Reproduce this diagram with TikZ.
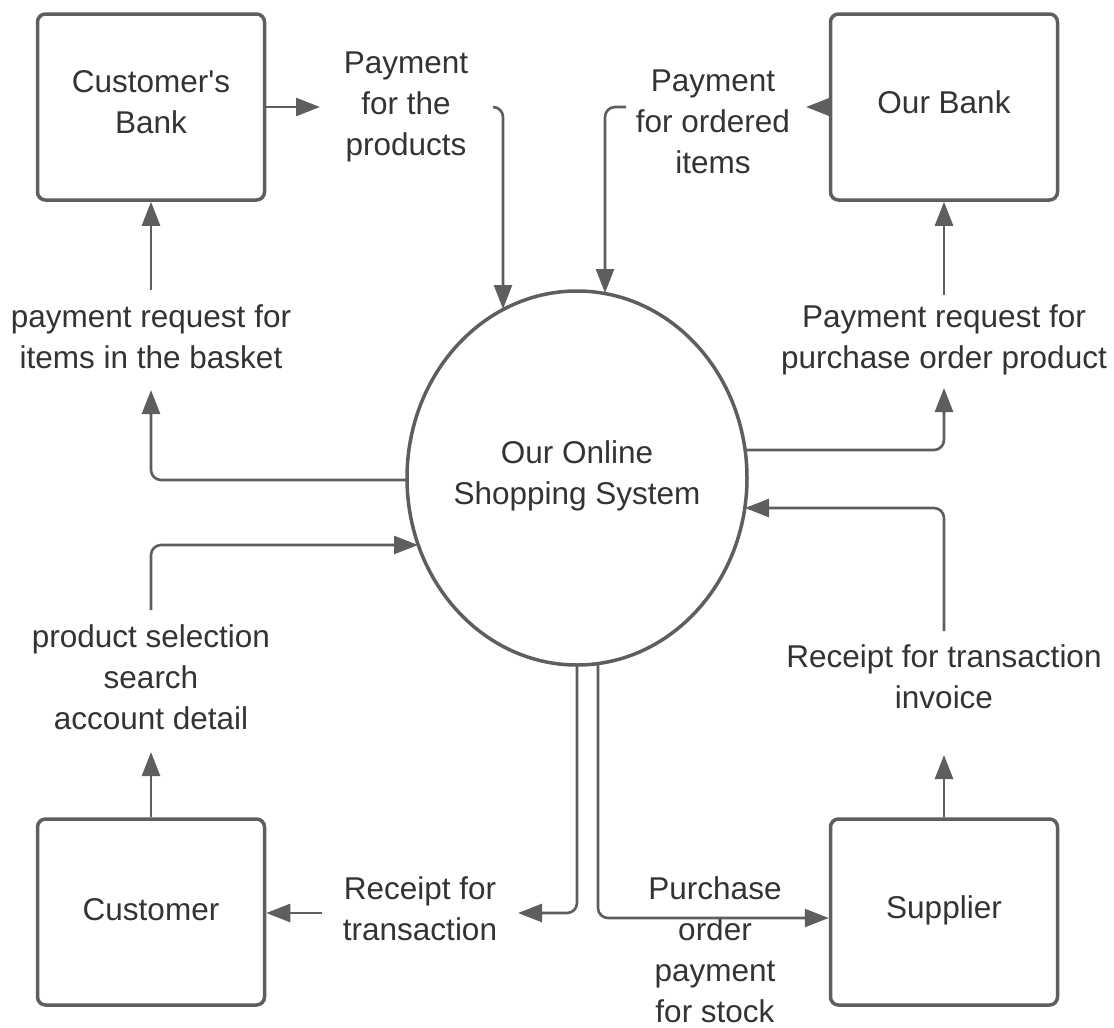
\documentclass[tikz,border=0pt]{standalone}
\usepackage{fontspec}
\setmainfont{Liberation Sans}[Ligatures=TeXOff]
\usetikzlibrary{arrows.meta,shapes.geometric}
\definecolor{ln}{HTML}{5E5E5E}
\definecolor{tx}{HTML}{333333}
\begin{document}
\begin{tikzpicture}[x=1pt,y=-1pt,
  box/.style={draw=ln,line width=3.5pt,rounded corners=8pt,minimum width=227pt,minimum height=186pt,inner sep=0pt},
  lbl/.style={text=tx,font=\fontsize{31.5}{41}\selectfont,align=center,inner sep=0pt},
  flow/.style={draw=ln,line width=2.6pt,rounded corners=10pt,-{Triangle[length=24pt,width=18pt]}}]
\useasboundingbox (0,0) rectangle (1114,1028);
% boxes
\node[box] (cb) at (151,107) {};
\node[box] (ob) at (944,107) {};
\node[box] (cu) at (151,912) {};
\node[box] (su) at (944,912) {};
\node[lbl] (cbt) at (151,102) {Customer's\\Bank};
\node[lbl] (obt) at (944,102) {Our Bank};
\node[lbl] (cut) at (151,910) {Customer};
\node[lbl] (sut) at (944,910) {Supplier};
% process
\node[draw=ln,line width=3.5pt,ellipse,minimum width=340pt,minimum height=374pt,inner sep=0pt] (sys) at (577,478) {};
\node[lbl] (syst) at (577,476) {Our Online\\Shopping System};
% labels
\node[lbl] (l1) at (406,107) {Payment\\for the\\products};
\node[lbl] (l2) at (713,122) {Payment\\for ordered\\items};
\node[lbl] (l3) at (151,337) {payment request for\\items in the basket};
\node[lbl] (l4) at (944,340) {Payment request for\\purchase order product};
\node[lbl] (l5) at (151,677) {product selection\\search\\account detail};
\node[lbl] (l6) at (944,677) {Receipt for transaction\\invoice};
\node[lbl] (l7) at (420,909) {Receipt for\\transaction};
\node[lbl] (l8) at (715,950) {Purchase\\order\\payment\\for stock};
% coordinates
\coordinate (c1) at (320,107);
\coordinate (c2) at (493,107);
\coordinate (s1) at (503,309);
\coordinate (c3) at (806,107);
\coordinate (c4) at (626,107);
\coordinate (s2) at (605,293);
\coordinate (c5) at (151,290);
\coordinate (s3) at (407,480);
\coordinate (c6) at (151,390);
\coordinate (c7) at (151,610);
\coordinate (s4) at (418,545);
\coordinate (c8) at (151,752);
\coordinate (c9) at (322,913);
\coordinate (s5) at (577,665);
\coordinate (c10) at (518,913);
\coordinate (s6) at (598,664);
\coordinate (c15) at (830,918);
\coordinate (c11) at (944,755);
\coordinate (c12) at (944,631);
\coordinate (s7) at (745,508);
\coordinate (s8) at (745,450);
\coordinate (c13) at (944,388);
\coordinate (c14) at (944,295);
% flows
\draw[flow] (cb.east |- c1) -- (c1);
\draw[flow] (c2) -| (s1);
\draw[flow] (ob.west |- c3) -- (c3);
\draw[flow] (c4) -| (s2);
\draw[flow] (c5) -- (cb.south);
\draw[flow] (s3) -| (c6);
\draw[flow] (c7) |- (s4);
\draw[flow] (cu.north) -- (c8);
\draw[flow] (c9) -- (cu.east |- c9);
\draw[flow] (s5) |- (c10);
\draw[flow] (s6) |- (su.west |- c15);
\draw[flow] (su.north) -- (c11);
\draw[flow] (c12) |- (s7);
\draw[flow] (s8) -| (c13);
\draw[flow] (c14) -- (ob.south);
\end{tikzpicture}
\end{document}
